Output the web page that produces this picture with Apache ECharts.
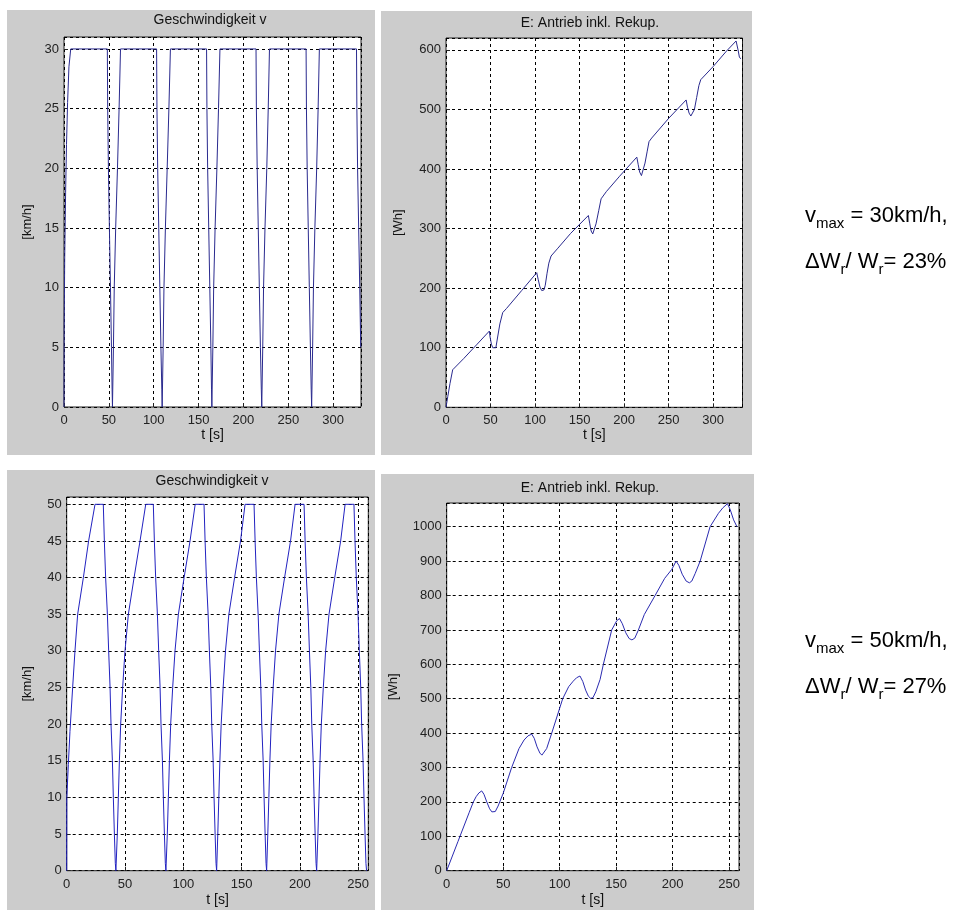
<!DOCTYPE html>
<html>
<head>
<meta charset="utf-8">
<script src="https://cdn.jsdelivr.net/npm/echarts@6/dist/echarts.min.js"></script>
<style>
html,body{margin:0;padding:0;background:#fff;}
#c{width:978px;height:910px;}
</style>
</head>
<body>
<div id="c"></div>
<script>
// ---------- DATA ----------
const panelTitles = ['Geschwindigkeit v', 'E: Antrieb inkl. Rekup.', 'Geschwindigkeit v', 'E: Antrieb inkl. Rekup.'];
const yNames = ['[km/h]', '[Wh]', '[km/h]', '[Wh]'];
const xName = 't [s]';
const noteTop = ['30km/h,', '23%'];
const noteBottom = ['50km/h,', '27%'];

// v (t) for vmax = 30 km/h  [t s, v km/h]
const speed30 = [
[0,0],[0.2,6.5],[0.8,12.5],[1.8,18],[2.8,22],[4,25.5],[5.5,28.5],[7.5,30],
[48.3,30],[48.7,25],[49.5,20],[50.6,15],[51.8,10],[52.9,5],[53.6,1.5],[54,0],
[54.6,0],[55.1,5],[56,10],[57.6,15],[59.6,20],[61.4,25],[63,30],
[103.2,30],[103.6,25],[104.4,20],[105.6,15],[106.8,10],[108,5],[109,1.5],[109.4,0],
[110,0],[110.5,5],[111.4,10],[113,15],[115,20],[116.9,25],[118.6,30],
[158.9,30],[159.3,25],[160.1,20],[161.3,15],[162.5,10],[163.7,5],[164.4,1.5],[164.8,0],
[165.4,0],[165.9,5],[166.8,10],[168.4,15],[170.4,20],[172.2,25],[173.8,30],
[214,30],[214.4,25],[215.3,20],[216.5,15],[217.7,10],[218.9,5],[219.9,1.5],[220.4,0],
[221,0],[221.5,5],[222.4,10],[224,15],[226,20],[227.6,25],[229,30],
[269.8,30],[270.2,25],[271,20],[272.2,15],[273.4,10],[274.6,5],[275.5,1.5],[276,0],
[276.6,0],[277.1,5],[278,10],[279.6,15],[281.6,20],[283.2,25],[284.6,30],
[326,30],[326.4,25],[327.2,20],[328.4,15],[329.6,10],[330.7,5]
];

// E (t) for vmax = 30 km/h  [t s, E Wh]
const energy30 = [
[0,0],[2,18],[4.5,40],[7.5,63],[20,82],[35,106],[48.7,128],[49.5,118],[51,106],[52.5,100],[54,97],[56,100],[58,118],[60.5,140],[63.7,159],[68,166],
[85,196],[101.9,226],[103.5,215],[105.5,202],[107.5,196],[110,197],[111.5,205],[113.5,225],[115.5,242],[118,254],[125,266],
[140,292],[159.9,322],[161.5,308],[163,296],[164.8,291],[166.5,293],[168.5,308],[171.5,330],[174.2,350],[180,362],
[195,388],[214.3,420],[215.8,408],[217.5,395],[219.5,389],[221.5,392],[223.5,410],[226,430],[228,446],[231,452],
[250,485],[269.7,516],[271.2,504],[273,494],[275,489],[277,489],[279,500],[281.5,520],[284,540],[286.1,550],
[300,572],[315,598],[325.8,615],[328,600],[329.5,588],[331,585]
];

// v (t) for vmax = 50 km/h
const speed50 = [
[0,0],[0.1,10],[1.4,14.5],[2.8,19],[5.1,25],[7.1,30],[9.4,35],[14.3,40],[18.8,45],[24.3,50],
[31.4,50],[32.3,45],[33.4,40],[34.9,35],[36,30],[37.2,25],[38,20],[39.2,15],[40,10],[40.9,5],[41.7,1],[42.2,0],
[42.9,0],[43.4,5],[44.3,10],[45.2,15],[46.3,20],[48,25],[50,30],[52.9,35],[57.8,40],[62.9,45],[67.8,50],
[74.3,50],[75.2,45],[76.3,40],[77.8,35],[78.9,30],[80.1,25],[80.9,20],[82.1,15],[82.9,10],[83.8,5],[84.6,1],[85.1,0],
[85.8,0],[86.3,5],[87.2,10],[88.1,15],[89.2,20],[90.9,25],[92.9,30],[95.8,35],[100.7,40],[105.8,45],[110.2,50],
[117.8,50],[118.7,45],[119.8,40],[121.3,35],[122.4,30],[123.6,25],[124.4,20],[125.6,15],[126.4,10],[127.3,5],[128.1,1],[128.6,0],
[129.1,0],[129.6,5],[130.5,10],[131.4,15],[132.5,20],[134.2,25],[136.2,30],[139.1,35],[144,40],[149.1,45],[153,50],
[160.7,50],[161.6,45],[162.7,40],[164.2,35],[165.3,30],[166.5,25],[167.3,20],[168.5,15],[169.3,10],[170.2,5],[171,1],[171.5,0],
[172,0],[172.5,5],[173.4,10],[174.3,15],[175.4,20],[177.1,25],[179.1,30],[182,35],[186.9,40],[192,45],[195.9,50],
[203.6,50],[204.5,45],[205.6,40],[207.1,35],[208.2,30],[209.4,25],[210.2,20],[211.4,15],[212.2,10],[213.1,5],[213.9,1],[214.4,0],
[215,0],[215.5,5],[216.4,10],[217.3,15],[218.4,20],[220.1,25],[222.1,30],[225,35],[229.9,40],[235,45],[238.8,50],
[246.4,50],[247.3,45],[248.4,40],[249.9,35],[251,30],[252.2,25],[253,20],[254.2,15],[255,10],[255.9,5],[256.7,1],[257.2,0]
];

// E (t) for vmax = 50 km/h
const energy50 = [
[0,0],[10,85],[20,170],[23.6,200],[26,215],[28.5,226],[31,232],[33,222],[35.5,200],[38,180],[40,171],[41.3,169],[43,172],[45.5,188],
[50,225],[57.5,300],[64,355],[68.5,380],[72,392],[75.3,397],[77.5,385],[80,360],[82.5,342],[84.3,336],[86,339],[88.5,355],
[93,400],[102.7,500],[108,535],[112,551],[115,561],[118,566],[120.5,550],[123,525],[125.5,507],[127.5,501],[129.5,503],[132,520],
[135.8,556],[138.7,600],[146.1,700],[150.6,727],[153,733],[155.5,718],[158.5,692],[161.5,675],[164,671],[166.5,676],[169.5,698],
[175,745],[184.5,800],[193,850],[199.3,876],[203.1,900],[205.5,888],[208.5,862],[212,842],[214.9,837],[217,842],[220,864],
[224.4,900],[233.2,1000],[240.6,1039],[244.5,1055],[248.6,1067],[251,1050],[254,1020],[257,1000]
];

// axis ranges
const xMax = [331, 333, 258.7, 258.8];
const yMax = [31, 620, 51, 1069];
const yStep = [5, 100, 5, 100];
const xStep = 50;

// ---------- LAYOUT ----------
const FONT = '"Liberation Sans", Arial, Helvetica, sans-serif';
const grids = [
  {left: 64, top: 37, width: 297, height: 370},
  {left: 446, top: 38, width: 296.5, height: 369.3},
  {left: 66.7, top: 497, width: 301.6, height: 373.7},
  {left: 446.7, top: 503, width: 292.3, height: 367.7}
];
const panels = [
  {x: 7, y: 10, w: 368, h: 445},
  {x: 381, y: 11, w: 371, h: 444},
  {x: 7, y: 470, w: 368, h: 440},
  {x: 381, y: 474, w: 373, h: 436}
];
const titlePos = [[210, 20], [590, 23], [212, 481], [590, 488]];
const notePos = [185, 610];
const xNameGap = [18, 19, 22, 22];
const yNameGap = [30, 41, 33, 47];
const lineColors = ['#2a2a8e', '#2a2a8e', '#2222c0', '#2a2ab0'];
const seriesData = [speed30, energy30, speed50, energy50];

const chart = echarts.init(document.getElementById('c'), null, {renderer: 'canvas'});

const option = {
  animation: false,
  backgroundColor: '#ffffff',
  grid: grids.map(g => Object.assign({show: true, backgroundColor: '#ffffff', borderColor: '#222', borderWidth: 1, containLabel: false, z: 0}, g)),
  xAxis: grids.map((g, i) => ({
    type: 'value', gridIndex: i, min: 0, max: xMax[i], interval: xStep, z: 3,
    name: xName, nameLocation: 'middle', nameGap: xNameGap[i],
    nameTextStyle: {fontFamily: FONT, fontSize: 14, color: '#111'},
    axisLine: {show: false},
    axisTick: {show: true, inside: true, length: 4, lineStyle: {color: '#222'}},
    axisLabel: {fontFamily: FONT, fontSize: 13, color: '#222', margin: 7, showMaxLabel: false, formatter: v => String(v)},
    splitLine: {show: true, lineStyle: {color: '#000', type: [3, 3], width: 1}}
  })),
  yAxis: grids.map((g, i) => ({
    type: 'value', gridIndex: i, min: 0, max: yMax[i], interval: yStep[i], z: 3,
    name: yNames[i], nameLocation: 'middle', nameGap: yNameGap[i], nameRotate: 90,
    nameTextStyle: {fontFamily: FONT, fontSize: 13, color: '#111'},
    axisLine: {show: false},
    axisTick: {show: true, inside: true, length: 4, lineStyle: {color: '#222'}},
    axisLabel: {fontFamily: FONT, fontSize: 13, color: '#222', margin: 5, showMaxLabel: false, formatter: v => String(v)},
    splitLine: {show: true, lineStyle: {color: '#000', type: [3, 3], width: 1}}
  })),
  series: seriesData.map((d, i) => ({
    type: 'line', xAxisIndex: i, yAxisIndex: i, data: d,
    showSymbol: false, symbol: 'none', z: 5,
    lineStyle: {color: lineColors[i], width: 1}
  })),
  graphic: [].concat(
    panels.map(p => ({type: 'rect', z: -10, silent: true, shape: {x: p.x, y: p.y, width: p.w, height: p.h}, style: {fill: '#cccccc'}})),
    titlePos.map((p, i) => ({type: 'text', z: 10, x: p[0], y: p[1], style: {text: panelTitles[i], font: '14px ' + FONT, fill: '#111', align: 'center', verticalAlign: 'middle'}})),
    [[noteTop, notePos[0]], [noteBottom, notePos[1]]].map(([n, y0]) => ({
      type: 'text', z: 10, x: 805, y: y0,
      style: {
        text: '{m|v}{s|max}{m| = ' + n[0] + '}\n{m|\u0394W}{s|r}{m|/ W}{s|r}{m|= ' + n[1] + '}',
        fill: '#000',
        rich: {
          m: {fontSize: 22, fontFamily: 'Liberation Sans, Arial, sans-serif', fill: '#000', lineHeight: 46, verticalAlign: 'bottom', padding: [0, 0, 4, 0]},
          s: {fontSize: 15, fontFamily: 'Liberation Sans, Arial, sans-serif', fill: '#000', lineHeight: 46, verticalAlign: 'bottom', padding: [0, 0, 0, 0]}
        }
      }
    }))
  )
};
chart.setOption(option);
</script>
</body>
</html>
